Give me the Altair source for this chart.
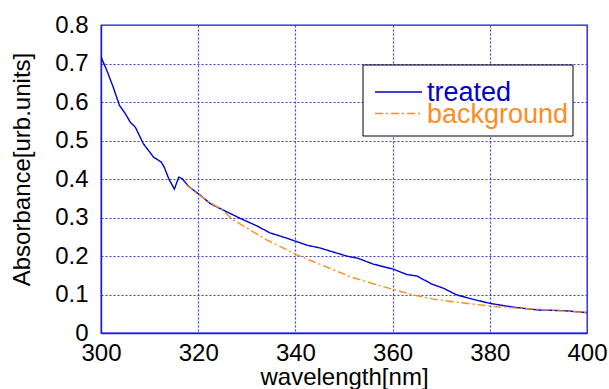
import altair as alt
import pandas as pd

# ---- data ----
treated_x = [300, 301.2, 302.5, 303.8, 305, 306, 307.1, 308.7, 310.8, 312.4, 313, 314, 315.1,
             316, 316.7, 318, 320.4, 322.5, 325.2, 328.6, 332.1, 334.8, 338.3, 342.4, 345,
             350.5, 352.9, 356, 360.1, 362.9, 365, 368.1, 370.5, 373.2, 376.7, 380, 384.9,
             389.8, 395.2, 400]
treated_y = [0.717, 0.682, 0.639, 0.591, 0.570, 0.548, 0.534, 0.492, 0.457, 0.444, 0.431, 0.399,
             0.374, 0.405, 0.401, 0.381, 0.358, 0.336, 0.319, 0.298, 0.278, 0.260, 0.246, 0.228,
             0.221, 0.200, 0.194, 0.179, 0.166, 0.152, 0.148, 0.127, 0.116, 0.099, 0.087, 0.077,
             0.067, 0.060, 0.058, 0.053]

background_x = [317.5, 318, 320.4, 322.5, 324.6, 327.3, 330.8, 333.9, 337, 340.4, 343, 347.1,
                351.3, 356.8, 360.5, 364.3, 368.4, 372.5, 378, 381.5, 386.3, 391.8, 400]
background_y = [0.385, 0.380, 0.357, 0.338, 0.323, 0.293, 0.267, 0.243, 0.224, 0.202, 0.189,
                0.168, 0.146, 0.125, 0.112, 0.099, 0.088, 0.081, 0.073, 0.068, 0.064, 0.060, 0.053]

series_names = ["treated", "background"]
series_colors = ["#0000d0", "#ff8c1f"]
series_dashes = [[1, 0], [8, 3, 2, 3]]
x_ticks = [300, 320, 340, 360, 380, 400]
y_ticks = [0, 0.1, 0.2, 0.3, 0.4, 0.5, 0.6, 0.7, 0.8]

rows = []
for i, (x, y) in enumerate(zip(treated_x, treated_y)):
    rows.append({"wavelength": x, "absorbance": y, "series": "treated", "order": i})
for i, (x, y) in enumerate(zip(background_x, background_y)):
    rows.append({"wavelength": x, "absorbance": y, "series": "background", "order": i})
df = pd.DataFrame(rows)

FONT = "Liberation Sans"
BLUE_AX = "#1a1ae0"
BLUE_GRID = "#3a3af0"

lines = alt.Chart(df).mark_line(strokeWidth=1.4, clip=True).encode(
    x=alt.X("wavelength:Q",
            scale=alt.Scale(domain=[300, 400], nice=False, zero=False),
            axis=alt.Axis(values=x_ticks, title="wavelength[nm]", format="d",
                          labelFlush=False, labelPadding=8, titlePadding=0)),
    y=alt.Y("absorbance:Q",
            scale=alt.Scale(domain=[0, 0.8], nice=False),
            axis=alt.Axis(values=y_ticks, title="Absorbance[urb.units]",
                          labelExpr="datum.value == 0 ? '0' : format(datum.value, '.1f')",
                          labelFlush=False, labelPadding=13, titlePadding=20, titleY=144)),
    color=alt.Color("series:N",
                    scale=alt.Scale(domain=series_names, range=series_colors),
                    legend=None),
    strokeDash=alt.StrokeDash("series:N",
                              scale=alt.Scale(domain=series_names, range=series_dashes),
                              legend=None),
    order="order:Q",
)

# ---- legend box (drawn by hand, like the MATLAB one) ----
legend_box = alt.Chart(pd.DataFrame({"k": [0]})).mark_rect(
    fill="white", stroke="black", strokeWidth=1
).encode(x=alt.value(262), x2=alt.value(472), y=alt.value(40), y2=alt.value(111))

legend_layers = [legend_box]
legend_rows_y = [67, 88.5]
for name, col, dash, ly in zip(series_names, series_colors, series_dashes, legend_rows_y):
    d = pd.DataFrame({"name": [name]})
    legend_layers.append(
        alt.Chart(d).mark_rule(color=col, strokeWidth=1.4, strokeDash=dash).encode(
            x=alt.value(274), x2=alt.value(321), y=alt.value(ly))
    )
    legend_layers.append(
        alt.Chart(d).mark_text(align="left", baseline="middle", font=FONT, fontSize=27,
                               color=col).encode(
            x=alt.value(326), y=alt.value(ly + 1), text="name:N")
    )

chart = alt.layer(lines, *legend_layers).properties(
    width=486, height=308,
    background="white",
    autosize=alt.AutoSizeParams(type="none"),
    padding={"left": 101, "top": 25, "right": 22, "bottom": 56},
).configure_view(
    stroke=BLUE_AX, strokeWidth=1.3
).configure_axis(
    labelFont=FONT, titleFont=FONT, labelFontSize=24, titleFontSize=24,
    titleFontWeight="normal", labelColor="black", titleColor="black",
    domainColor=BLUE_AX, domainWidth=1.3, ticks=False,
    grid=True, gridColor=BLUE_GRID, gridDash=[2, 2], gridWidth=1.2, gridOpacity=1,
)

chart.save("out.html", embed_options={"renderer": "svg", "actions": False})
